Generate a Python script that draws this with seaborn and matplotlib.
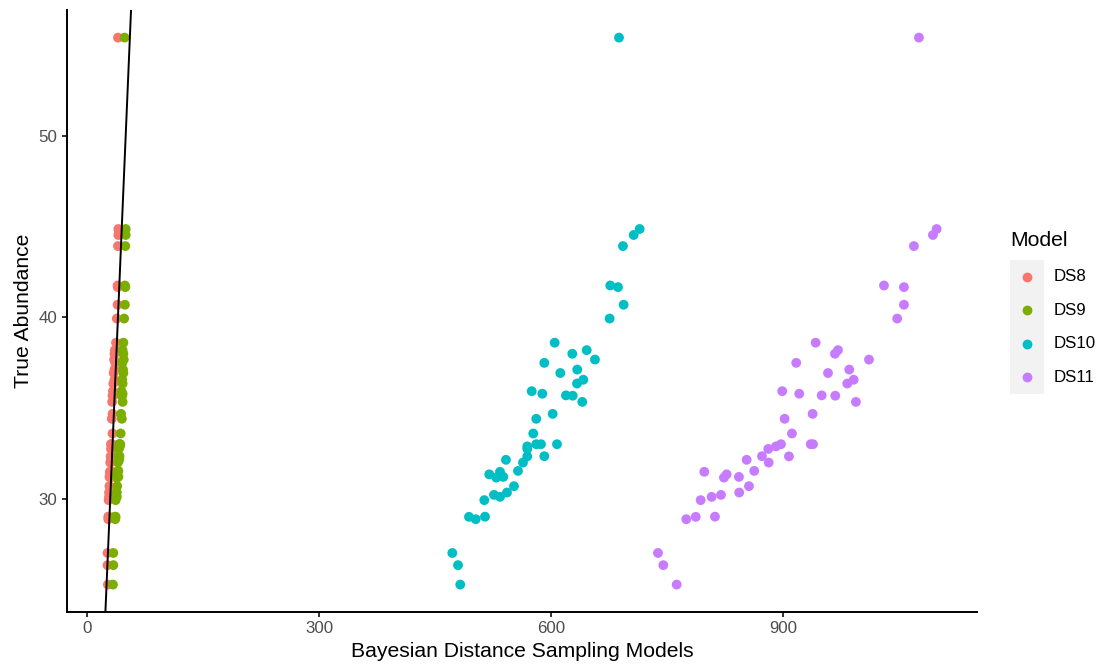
import matplotlib
matplotlib.use("Agg")
import numpy as np
import pandas as pd
import seaborn as sns
import matplotlib.pyplot as plt

# ---------------- data ----------------
models = ["DS8", "DS9", "DS10", "DS11"]
palette = ["#F8766D", "#7CAE00", "#00BFC4", "#C77CFF"]

true_abundance = [55.40, 44.86, 44.53, 43.92, 41.75, 41.66, 40.69, 39.93, 38.60, 38.19,
                  37.99, 37.67, 37.49, 37.12, 36.93, 36.56, 36.35, 35.93, 35.79, 35.70,
                  35.68, 35.34, 34.68, 34.41, 33.60, 33.01, 33.01, 33.01, 32.89, 32.75,
                  32.35, 32.34, 32.15, 32.00, 31.54, 31.49, 31.35, 31.21, 31.17, 30.70,
                  30.35, 30.22, 30.11, 29.93, 29.02, 29.01, 28.88, 27.02, 26.35, 25.28]

ds8 = [40.0, 40.5, 40.5, 40.0, 39.5, 39.8, 39.5, 38.5, 37.5, 36.0,
       35.5, 35.0, 36.5, 35.5, 34.5, 35.5, 34.0, 33.5, 35.0, 34.0,
       33.0, 32.5, 33.0, 32.0, 33.0, 31.5, 32.5, 31.0, 32.0, 31.0,
       32.0, 30.5, 31.0, 30.0, 31.0, 29.5, 30.0, 29.0, 30.5, 29.0,
       28.5, 29.5, 28.5, 28.0, 27.5, 28.5, 27.5, 26.5, 26.5, 27.0]

ds9 = [48.5, 50.0, 50.0, 49.5, 49.0, 49.5, 49.0, 48.0, 47.0, 46.0,
       47.0, 47.5, 45.5, 46.5, 47.0, 45.5, 46.0, 44.5, 46.0, 44.5,
       45.5, 46.0, 44.0, 45.0, 43.5, 42.0, 43.0, 41.5, 42.5, 41.0,
       42.0, 40.5, 41.5, 40.0, 40.5, 39.5, 39.0, 40.5, 38.5, 39.0,
       38.5, 37.5, 38.5, 37.0, 36.0, 37.0, 36.5, 34.0, 34.0, 33.5]

ds10 = [688.0, 714.7, 707.0, 693.1, 676.7, 686.7, 694.0, 675.9, 604.8, 646.2,
        627.6, 656.9, 591.4, 634.0, 612.1, 641.8, 633.7, 575.1, 588.8, 619.4,
        628.1, 640.5, 602.2, 581.0, 577.1, 581.0, 587.1, 607.8, 569.4, 569.4,
        591.4, 569.4, 541.8, 563.8, 557.4, 534.1, 520.2, 538.3, 529.3, 552.2,
        543.1, 526.3, 534.1, 513.8, 514.7, 494.0, 502.7, 472.4, 479.8, 482.7]

ds11 = [1075.9, 1098.8, 1094.0, 1069.4, 1030.7, 1056.5, 1056.5, 1047.8, 942.3, 971.2,
        967.3, 1011.3, 917.2, 985.8, 958.3, 991.5, 983.2, 899.1, 921.1, 950.1,
        967.7, 994.4, 938.4, 902.2, 911.7, 897.5, 938.9, 936.0, 891.0, 881.0,
        872.9, 907.8, 853.1, 881.6, 862.9, 798.3, 827.2, 843.1, 823.7, 856.1,
        843.5, 819.9, 807.8, 793.6, 812.1, 787.2, 775.0, 738.4, 745.3, 762.6]

x_ticks = [0, 300, 600, 900]
y_ticks = [30, 40, 50]
abline_intercept = 0
abline_slope = 1

x_title = "Bayesian Distance Sampling Models"
y_title = "True Abundance"
legend_title = "Model"

# ---------------- frame ----------------
df = pd.concat([
    pd.DataFrame({"Estimate": vals, "True": true_abundance, "Model": m})
    for m, vals in zip(models, [ds8, ds9, ds10, ds11])
], ignore_index=True)

sns.set_theme(style="white")
plt.rcParams["font.family"] = ["Liberation Sans", "DejaVu Sans"]

W, H = 1099, 664
fig = plt.figure(figsize=(W / 100, H / 100), dpi=100)
ax = fig.add_axes([67 / W, 1 - 612 / H, (977 - 67) / W, (612 - 10) / H])

pt_size = 50
sns.scatterplot(data=df, x="Estimate", y="True", hue="Model", hue_order=models,
                palette=palette, s=pt_size, linewidth=0, alpha=1, legend=False, ax=ax,
                zorder=2)
ax.axline((0, abline_intercept), slope=abline_slope, color="black", lw=1.4, zorder=3)

ax.set_xlim(-25.9, 1151)
ax.set_ylim(23.77, 56.92)
ax.set_xticks(x_ticks)
ax.set_yticks(y_ticks)
ax.set_xticklabels([str(t) for t in x_ticks])
ax.set_yticklabels([str(t) for t in y_ticks])

for s in ["top", "right"]:
    ax.spines[s].set_visible(False)
for s in ["left", "bottom"]:
    ax.spines[s].set_color("black")
    ax.spines[s].set_linewidth(1.4)

ax.tick_params(axis="both", which="major", length=3.8, width=1.4, color="#333333",
               labelcolor="#4D4D4D", labelsize=12.2, pad=3, direction="out",
               bottom=True, left=True)
ax.set_xlabel(x_title, fontsize=15.2, color="black", labelpad=4)
ax.set_ylabel(y_title, fontsize=15.2, color="black", labelpad=4)
ax.grid(False)

# ---------------- legend ----------------
lx0, lx1, ly0, ly1 = 1010, 1044, 260, 394
lax = fig.add_axes([lx0 / W, 1 - ly1 / H, (lx1 - lx0) / W, (ly1 - ly0) / H])
lax.set_facecolor("#F2F2F2")
for s in lax.spines.values():
    s.set_visible(False)
lax.set_xticks([])
lax.set_yticks([])
lax.set_xlim(0, 1)
lax.set_ylim(0, len(models))
for i, (m, c) in enumerate(zip(models, palette)):
    yy = len(models) - i - 0.5
    lax.scatter([0.5], [yy], s=pt_size, color=c, linewidth=0)
    lax.text(1 + 10 / (lx1 - lx0), yy, m, fontsize=12.2, color="black",
             va="center", ha="left", clip_on=False)
fig.text(lx0 / W, 1 - 240 / H, legend_title, fontsize=15.2, color="black",
         ha="left", va="center")

fig.savefig("out.png", dpi=100)
